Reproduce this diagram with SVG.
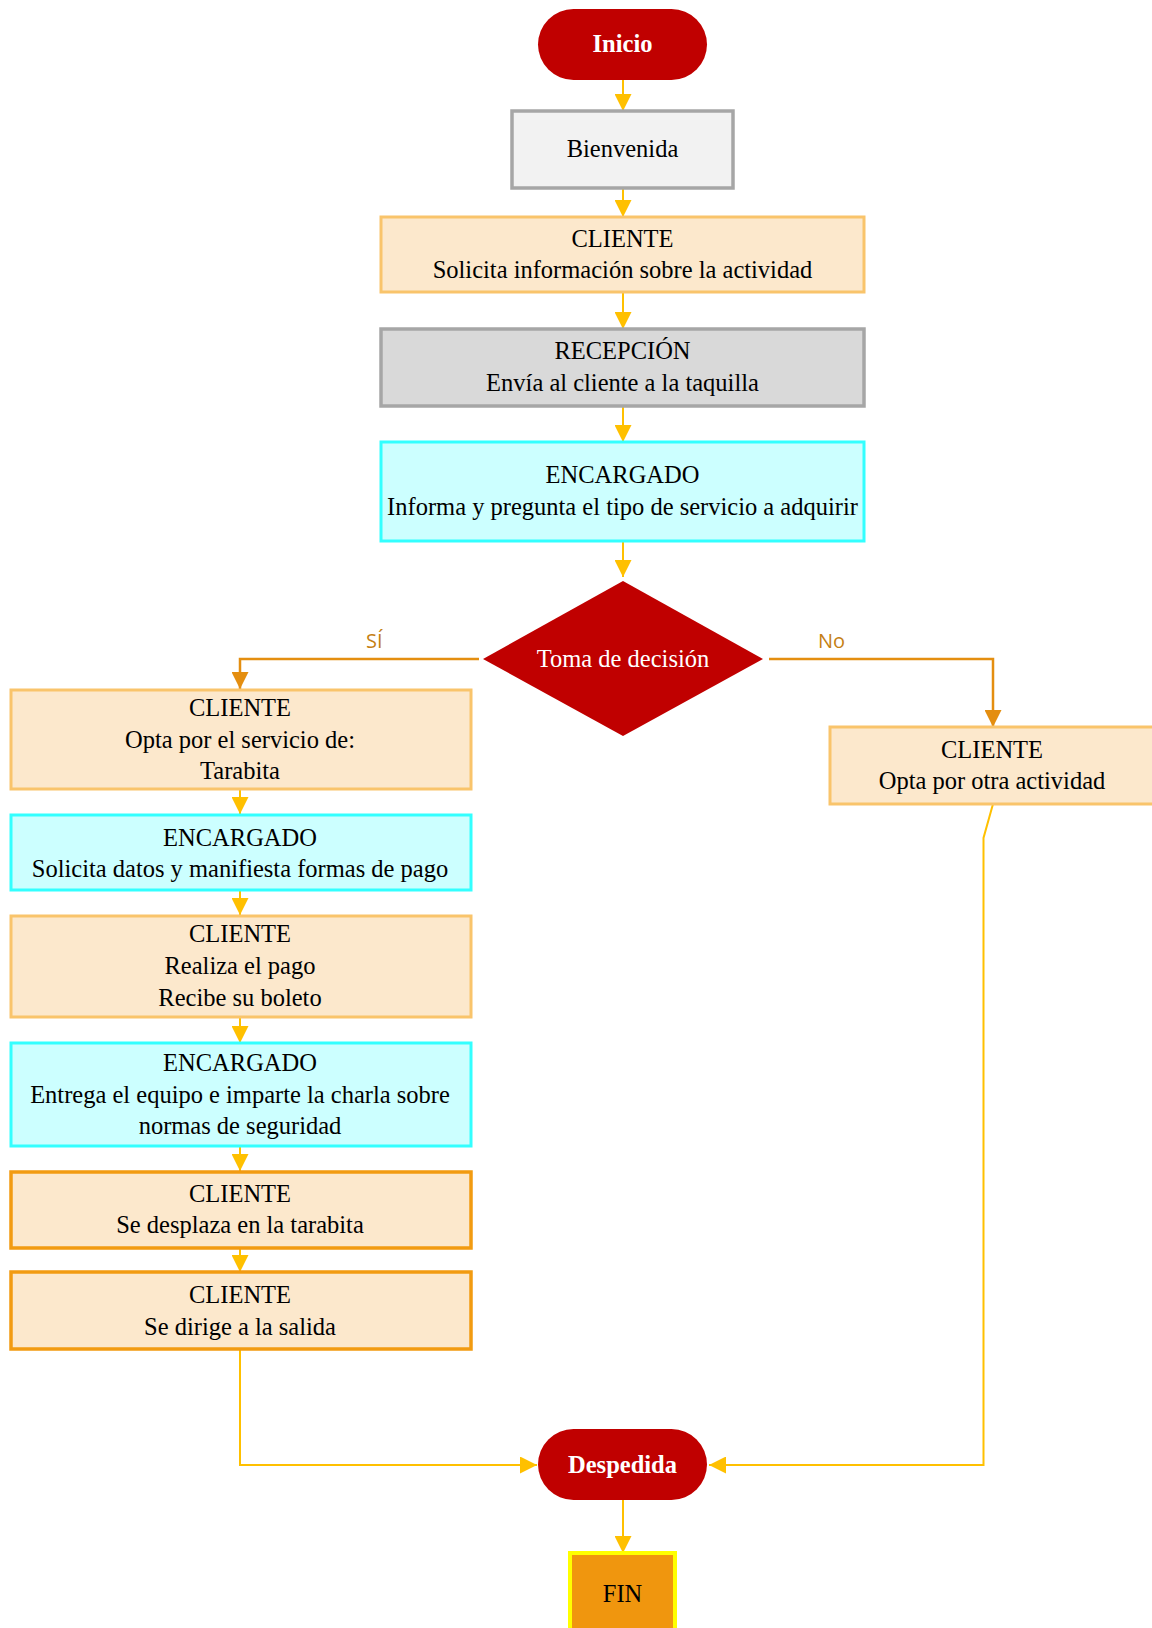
<svg xmlns="http://www.w3.org/2000/svg" width="1152" height="1628" viewBox="0 0 1152 1628">
<style>
.t{font-family:"Liberation Serif","Times New Roman",serif;font-size:24.5px;fill:#000;text-anchor:middle}
.tw{font-family:"Liberation Serif","Times New Roman",serif;font-size:24.5px;fill:#fff;text-anchor:middle}
.tb{font-family:"Liberation Serif","Times New Roman",serif;font-size:24.5px;font-weight:bold;fill:#fff;text-anchor:middle}
.lbl{font-family:"Open Sans","Liberation Sans",sans-serif;font-size:20px;fill:#c57f14}
.term{fill:#c00000}
.cl{fill:#fce8cc;stroke:#f9c46b;stroke-width:3}
.cl2{fill:#fce8cc;stroke:#f29b11;stroke-width:3.5}
.en{fill:#ccffff;stroke:#33ffff;stroke-width:3}
.gr{stroke:#a6a6a6;stroke-width:3.5}
.c{fill:none;stroke:#ffc000;stroke-width:2}
.d{fill:none;stroke:#e48e10;stroke-width:2.5}
</style>
<defs>
<marker id="a" markerUnits="userSpaceOnUse" markerWidth="17" markerHeight="17" refX="17" refY="8.5" orient="auto">
<path d="M0,0 L17,8.5 L0,17 z" fill="#ffc000"/>
</marker>
<marker id="ad" markerUnits="userSpaceOnUse" markerWidth="17" markerHeight="17" refX="17" refY="8.5" orient="auto">
<path d="M0,0 L17,8.5 L0,17 z" fill="#e48e10"/>
</marker>
</defs>
<g id="connectors">
<path class="c" d="M623,80 V111" marker-end="url(#a)"/>
<path class="c" d="M623,188 V217" marker-end="url(#a)"/>
<path class="c" d="M623,292 V329" marker-end="url(#a)"/>
<path class="c" d="M623,406 V442" marker-end="url(#a)"/>
<path class="c" d="M623,541 V577" marker-end="url(#a)"/>
<path class="d" d="M479,659 H240 V689" marker-end="url(#ad)"/>
<path class="d" d="M769,659 H993 V727" marker-end="url(#ad)"/>
<path class="c" d="M240,789 V814" marker-end="url(#a)"/>
<path class="c" d="M240,890 V915" marker-end="url(#a)"/>
<path class="c" d="M240,1017 V1043" marker-end="url(#a)"/>
<path class="c" d="M240,1146 V1171" marker-end="url(#a)"/>
<path class="c" d="M240,1248 V1272" marker-end="url(#a)"/>
<path class="c" d="M240,1349 V1465 H537" marker-end="url(#a)"/>
<path class="c" d="M993,804 L983.5,838 V1465 H709" marker-end="url(#a)"/>
<path class="c" d="M623,1500 V1553" marker-end="url(#a)"/>
<text class="lbl" x="366" y="648">SÍ</text>
<text class="lbl" x="818" y="648">No</text>
</g>
<g id="inicio">
<rect class="term" x="538" y="9" width="169" height="71" rx="35.5"/>
<text class="tb" x="622.5" y="52">Inicio</text>
</g>
<g id="bienvenida">
<rect class="gr" x="512" y="111" width="221" height="77" fill="#f2f2f2"/>
<text class="t" x="622.5" y="157">Bienvenida</text>
</g>
<g id="cliente1">
<rect class="cl" x="381" y="217" width="483" height="75"/>
<text class="t" x="622.5" y="246.5">CLIENTE</text>
<text class="t" x="622.5" y="277.5">Solicita información sobre la actividad</text>
</g>
<g id="recepcion">
<rect class="gr" x="381" y="329" width="483" height="77" fill="#d9d9d9"/>
<text class="t" x="622.5" y="359">RECEPCIÓN</text>
<text class="t" x="622.5" y="391">Envía al cliente a la taquilla</text>
</g>
<g id="encargado1">
<rect class="en" x="381" y="442" width="483" height="99"/>
<text class="t" x="622.5" y="483">ENCARGADO</text>
<text class="t" x="622.5" y="515">Informa y pregunta el tipo de servicio a adquirir</text>
</g>
<g id="decision">
<polygon class="term" points="623,581 763,659 623,736 483,659"/>
<text class="tw" x="623" y="667">Toma de decisión</text>
</g>
<g id="cliente2">
<rect class="cl" x="11" y="690" width="460" height="99"/>
<text class="t" x="240" y="716">CLIENTE</text>
<text class="t" x="240" y="748">Opta por el servicio de:</text>
<text class="t" x="240" y="779">Tarabita</text>
</g>
<g id="encargado2">
<rect class="en" x="11" y="815" width="460" height="75"/>
<text class="t" x="240" y="846">ENCARGADO</text>
<text class="t" x="240" y="877">Solicita datos y manifiesta formas de pago</text>
</g>
<g id="cliente3">
<rect class="cl" x="11" y="916" width="460" height="101"/>
<text class="t" x="240" y="942">CLIENTE</text>
<text class="t" x="240" y="974">Realiza el pago</text>
<text class="t" x="240" y="1006">Recibe su boleto</text>
</g>
<g id="encargado3">
<rect class="en" x="11" y="1043" width="460" height="103"/>
<text class="t" x="240" y="1071">ENCARGADO</text>
<text class="t" x="240" y="1103">Entrega el equipo e imparte la charla sobre</text>
<text class="t" x="240" y="1134">normas de seguridad</text>
</g>
<g id="cliente4">
<rect class="cl2" x="11" y="1172" width="460" height="76"/>
<text class="t" x="240" y="1202">CLIENTE</text>
<text class="t" x="240" y="1233">Se desplaza en la tarabita</text>
</g>
<g id="cliente5">
<rect class="cl2" x="11" y="1272" width="460" height="77"/>
<text class="t" x="240" y="1303">CLIENTE</text>
<text class="t" x="240" y="1335">Se dirige a la salida</text>
</g>
<g id="clienteR">
<rect class="cl" x="830" y="727" width="326" height="77"/>
<text class="t" x="992" y="758">CLIENTE</text>
<text class="t" x="992" y="789">Opta por otra actividad</text>
</g>
<g id="despedida">
<rect class="term" x="538" y="1429" width="169" height="71" rx="35.5"/>
<text class="tb" x="622.5" y="1473">Despedida</text>
</g>
<g id="fin">
<rect x="570" y="1553" width="105" height="82" fill="#f0960e" stroke="#ffff00" stroke-width="4"/>
<text class="t" x="622.5" y="1602">FIN</text>
</g>
</svg>
